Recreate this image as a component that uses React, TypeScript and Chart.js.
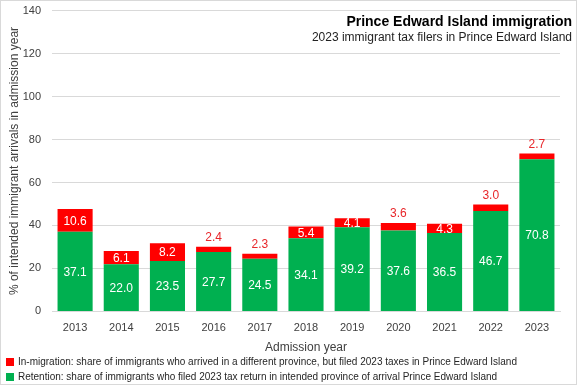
import React, { useEffect, useRef } from "react";
import { Chart, registerables } from "chart.js";

Chart.register(...registerables);

const years = ["2013", "2014", "2015", "2016", "2017", "2018", "2019", "2020", "2021", "2022", "2023"];
const retention = [37.1, 22.0, 23.5, 27.7, 24.5, 34.1, 39.2, 37.6, 36.5, 46.7, 70.8];
const inMigration = [10.6, 6.1, 8.2, 2.4, 2.3, 5.4, 4.1, 3.6, 4.3, 3.0, 2.7];
const yTicks = [0, 20, 40, 60, 80, 100, 120, 140];

const titleText = "Prince Edward Island immigration";
const subtitleText = "2023 immigrant tax filers in Prince Edward Island";
const legendRed = "In-migration: share of immigrants who arrived in a different province, but filed 2023 taxes in Prince Edward Island";
const legendGreen = "Retention: share of immigrants who filed 2023 tax return in intended province of arrival Prince Edward Island";

const FONT = "'Liberation Sans', Arial, sans-serif";
const SHIFT = 8;

const labelPlugin = {
  id: "barLabels",
  afterDatasetsDraw(chart: any) {
    const ctx = chart.ctx;
    ctx.save();
    ctx.font = `12px ${FONT}`;
    ctx.textAlign = "center";
    ctx.textBaseline = "middle";
    chart.data.datasets.forEach((ds: any, di: number) => {
      const meta = chart.getDatasetMeta(di);
      meta.data.forEach((el: any, i: number) => {
        const v = ds.data[i] as number;
        const txt = v.toFixed(1);
        const top = Math.min(el.y, el.base);
        const bot = Math.max(el.y, el.base);
        if (di === 0 || v >= 4) {
          ctx.fillStyle = "#FFFFFF";
          ctx.fillText(txt, el.x, (top + bot) / 2 + 1);
        } else {
          ctx.fillStyle = "#E8262A";
          ctx.fillText(txt, el.x, top - 9);
        }
      });
    });
    ctx.restore();
  },
};

const titlePlugin = {
  id: "cornerTitle",
  afterDraw(chart: any) {
    const ctx = chart.ctx;
    ctx.save();
    ctx.textAlign = "right";
    ctx.textBaseline = "alphabetic";
    ctx.fillStyle = "#000000";
    ctx.font = `bold 14px ${FONT}`;
    ctx.fillText(titleText, 571, 25 + SHIFT);
    ctx.fillStyle = "#222222";
    ctx.font = `12px ${FONT}`;
    ctx.fillText(subtitleText, 571, 40 + SHIFT);
    ctx.restore();
  },
};

const legendPlugin = {
  id: "manualLegend",
  afterDraw(chart: any) {
    const ctx = chart.ctx;
    ctx.save();
    ctx.font = `10px ${FONT}`;
    ctx.textAlign = "left";
    ctx.textBaseline = "middle";
    const order = [1, 0];
    order.forEach((di, row) => {
      const ds = chart.data.datasets[di];
      const y = 361 + SHIFT + row * 15;
      ctx.fillStyle = ds.backgroundColor;
      ctx.fillRect(5, y - 4, 8, 8);
      ctx.fillStyle = "#262626";
      ctx.fillText(ds.label, 17, y);
    });
    ctx.restore();
  },
};

export default function App() {
  const ref = useRef<HTMLCanvasElement | null>(null);
  useEffect(() => {
    document.body.style.margin = "0";
    if (!ref.current) return;
    const chart = new Chart(ref.current, {
      type: "bar",
      data: {
        labels: years,
        datasets: [
          {
            label: legendGreen,
            data: retention,
            backgroundColor: "#00B050",
            barPercentage: 0.76,
            categoryPercentage: 1,
          },
          {
            label: legendRed,
            data: inMigration,
            backgroundColor: "#FF0000",
            barPercentage: 0.76,
            categoryPercentage: 1,
          },
        ],
      },
      options: {
        animation: false,
        responsive: false,
        layout: { autoPadding: false, padding: { left: 6, right: 16, top: 1, bottom: 29 } },
        scales: {
          x: {
            stacked: true,
            grid: { display: false },
            border: { color: "#D9D9D9" },
            ticks: { color: "#404040", font: { family: FONT, size: 11 }, padding: 2 },
            title: {
              display: true,
              text: "Admission year",
              color: "#404040",
              font: { family: FONT, size: 12 },
              padding: { top: 4, bottom: 0 },
            },
          },
          y: {
            stacked: true,
            min: 0,
            max: 140,
            afterBuildTicks: (axis: any) => {
              axis.ticks = yTicks.map((v) => ({ value: v }));
            },
            afterFit: (scale: any) => {
              scale.width = 45;
            },
            grid: { color: "#D9D9D9", drawTicks: false },
            border: { display: false },
            ticks: { color: "#404040", font: { family: FONT, size: 11 }, padding: 11 },
            title: {
              display: true,
              text: "% of intended immigrant arrivals in admission year",
              color: "#404040",
              font: { family: FONT, size: 12 },
              padding: { top: 0, bottom: 0 },
            },
          },
        },
        plugins: {
          legend: { display: false },
          tooltip: { enabled: false },
        },
      },
      plugins: [labelPlugin, titlePlugin, legendPlugin],
    });
    return () => chart.destroy();
  }, []);
  return (
    <div style={{ width: 577, height: 385, boxSizing: "border-box", border: "1px solid #D9D9D9", position: "relative", overflow: "hidden" }}>
      <canvas ref={ref} width={575} height={383 + SHIFT} style={{ display: "block", marginTop: -SHIFT }} />
    </div>
  );
}
